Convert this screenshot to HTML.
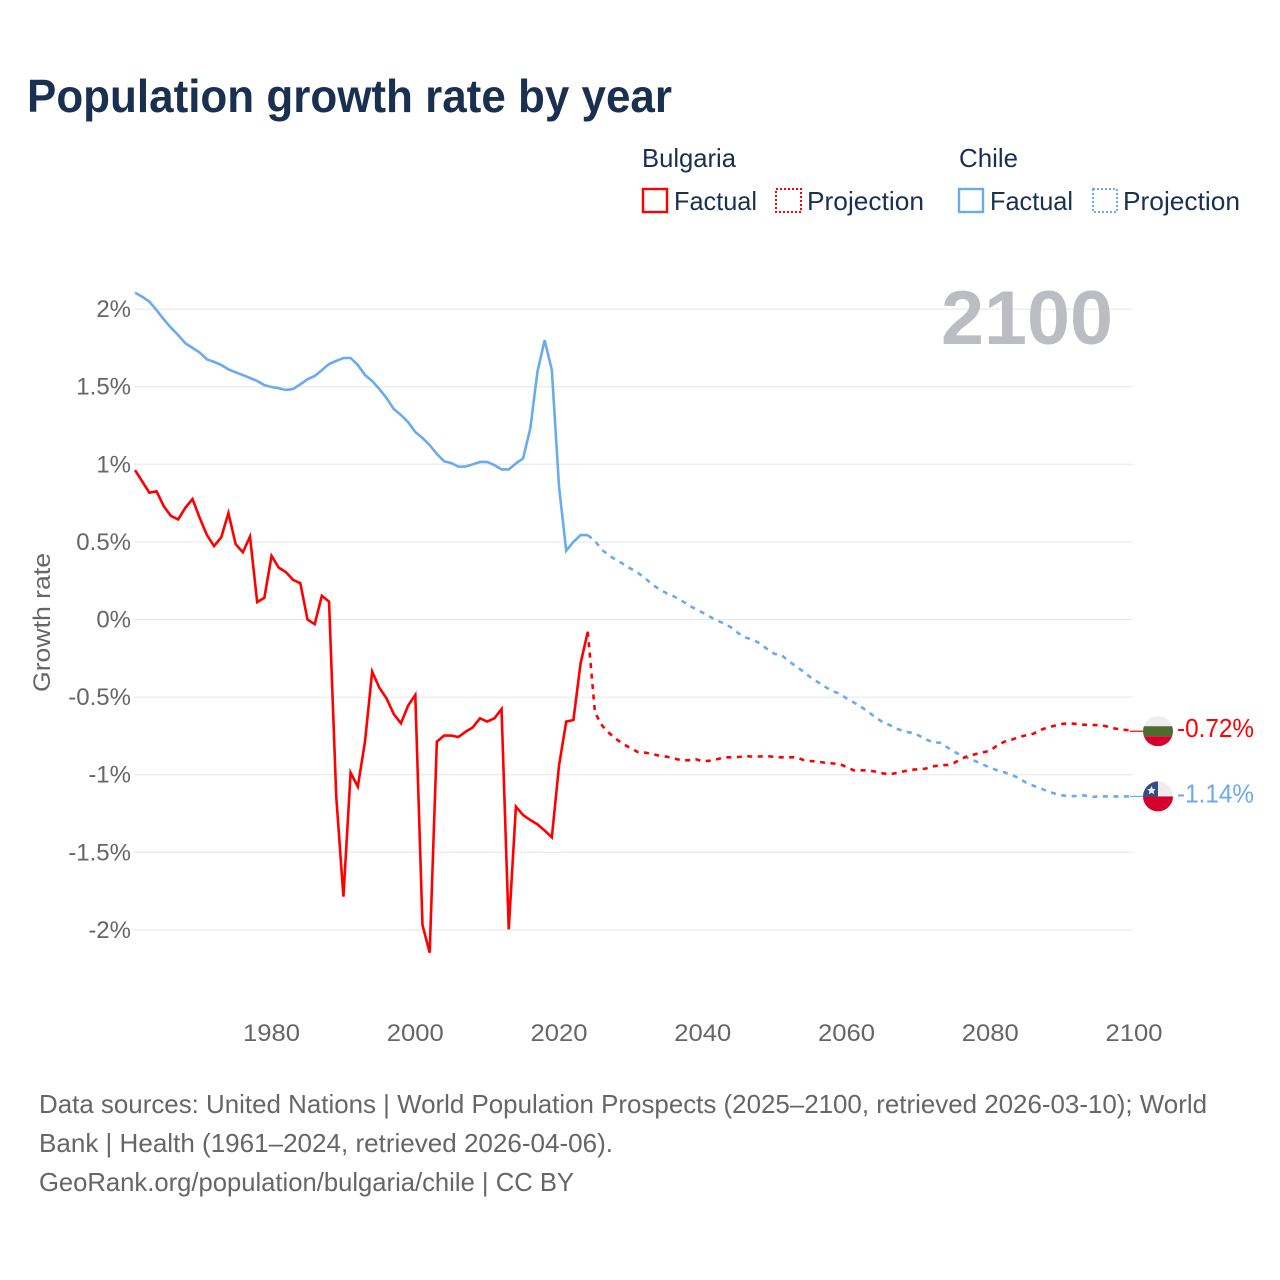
<!DOCTYPE html>
<html lang="en">
<head>
<meta charset="utf-8">
<title>Population growth rate by year</title>
<style>
html,body{margin:0;padding:0;background:#fff;}
svg{display:block;font-family:"Liberation Sans",sans-serif;}
</style>
</head>
<body>
<svg id="chart" width="1280" height="1280" viewBox="0 0 1280 1280" xmlns="http://www.w3.org/2000/svg">
<rect width="1280" height="1280" fill="#fff"/>
<text x="27" y="112" font-size="46" font-weight="700" fill="#1a3050" textLength="645" lengthAdjust="spacingAndGlyphs">Population growth rate by year</text>
<g font-size="26" fill="#1a3050">
<text x="642" y="167" textLength="94" lengthAdjust="spacingAndGlyphs">Bulgaria</text>
<text x="959" y="167" textLength="59" lengthAdjust="spacingAndGlyphs">Chile</text>
<rect x="643" y="189" width="24" height="23" fill="none" stroke="#ff0000" stroke-width="2.4"/>
<text x="674" y="210" textLength="83" lengthAdjust="spacingAndGlyphs">Factual</text>
<rect x="776" y="189" width="25" height="23" fill="none" stroke="#ff0000" stroke-width="2" stroke-dasharray="2,2"/>
<text x="807" y="210" textLength="117" lengthAdjust="spacingAndGlyphs">Projection</text>
<rect x="959" y="189" width="24" height="23" fill="none" stroke="#6aaaee" stroke-width="2.4"/>
<text x="990" y="210" textLength="83" lengthAdjust="spacingAndGlyphs">Factual</text>
<rect x="1093" y="189" width="24" height="23" fill="none" stroke="#6aaaee" stroke-width="2" stroke-dasharray="2,2"/>
<text x="1123" y="210" textLength="117" lengthAdjust="spacingAndGlyphs">Projection</text>
</g>
<g id="grid"></g>
<g id="yticks"></g>
<g id="xticks"></g>
<text transform="translate(50,692) rotate(-90)" font-size="24" fill="#666" textLength="139" lengthAdjust="spacingAndGlyphs">Growth rate</text>
<text x="941" y="344" font-size="76" font-weight="700" fill="#bcbdc3" textLength="172" lengthAdjust="spacingAndGlyphs">2100</text>
<g id="series"></g>
<g id="endpoints"></g>
<g font-size="26" fill="#666">
<text x="39" y="1113" textLength="1168" lengthAdjust="spacingAndGlyphs">Data sources: United Nations | World Population Prospects (2025–2100, retrieved 2026-03-10); World</text>
<text x="39" y="1152" textLength="574" lengthAdjust="spacingAndGlyphs">Bank | Health (1961–2024, retrieved 2026-04-06).</text>
<text x="39" y="1191" textLength="535" lengthAdjust="spacingAndGlyphs">GeoRank.org/population/bulgaria/chile | CC BY</text>
</g>
</svg>
<script>
const factualStartYear = 1961;
const projectionStartYear = 2024;
const domainEndYear = 2100;
const yTickValues = [2, 1.5, 1, 0.5, 0, -0.5, -1, -1.5, -2];
const yTickLabels = ["2%", "1.5%", "1%", "0.5%", "0%", "-0.5%", "-1%", "-1.5%", "-2%"];
const xTickValues = [1980, 2000, 2020, 2040, 2060, 2080, 2100];
const xTickLabels = ["1980", "2000", "2020", "2040", "2060", "2080", "2100"];

const bulgariaFactual = [0.963,0.89,0.817,0.826,0.73,0.667,0.645,0.72,0.776,0.655,0.545,0.473,0.53,0.686,0.486,0.433,0.534,0.112,0.14,0.41,0.334,0.305,0.255,0.234,0.0,-0.03,0.153,0.115,-1.14,-1.786,-0.987,-1.077,-0.787,-0.336,-0.44,-0.508,-0.609,-0.669,-0.555,-0.486,-1.968,-2.147,-0.787,-0.748,-0.748,-0.757,-0.723,-0.695,-0.637,-0.658,-0.637,-0.577,-1.996,-1.206,-1.26,-1.292,-1.32,-1.36,-1.403,-0.94,-0.658,-0.648,-0.282,-0.079];
const bulgariaProjection = [-0.079,-0.6,-0.684,-0.733,-0.772,-0.804,-0.83,-0.855,-0.858,-0.867,-0.878,-0.884,-0.895,-0.907,-0.907,-0.9,-0.914,-0.91,-0.9,-0.888,-0.888,-0.886,-0.88,-0.884,-0.882,-0.88,-0.886,-0.888,-0.888,-0.888,-0.905,-0.912,-0.916,-0.923,-0.927,-0.931,-0.95,-0.972,-0.972,-0.972,-0.98,-0.991,-0.997,-0.989,-0.978,-0.968,-0.965,-0.961,-0.946,-0.94,-0.937,-0.923,-0.897,-0.878,-0.867,-0.856,-0.845,-0.81,-0.787,-0.774,-0.757,-0.746,-0.736,-0.712,-0.695,-0.684,-0.673,-0.669,-0.673,-0.678,-0.68,-0.68,-0.686,-0.7,-0.707,-0.712,-0.72];
const chileFactual = [2.106,2.08,2.048,1.994,1.934,1.88,1.833,1.78,1.75,1.72,1.676,1.66,1.64,1.612,1.593,1.575,1.556,1.537,1.51,1.498,1.49,1.479,1.485,1.515,1.548,1.569,1.607,1.646,1.666,1.685,1.685,1.64,1.575,1.537,1.485,1.427,1.356,1.318,1.272,1.208,1.17,1.124,1.066,1.02,1.008,0.985,0.985,1.0,1.015,1.015,0.995,0.967,0.967,1.006,1.038,1.231,1.597,1.8,1.607,0.856,0.443,0.5,0.544,0.544];
const chileProjection = [0.544,0.505,0.448,0.411,0.383,0.355,0.327,0.3,0.265,0.224,0.194,0.168,0.149,0.123,0.093,0.067,0.044,0.018,-0.008,-0.025,-0.053,-0.09,-0.117,-0.13,-0.156,-0.192,-0.222,-0.231,-0.27,-0.302,-0.336,-0.373,-0.403,-0.433,-0.461,-0.476,-0.508,-0.534,-0.562,-0.594,-0.63,-0.66,-0.68,-0.704,-0.72,-0.73,-0.746,-0.772,-0.79,-0.794,-0.823,-0.852,-0.878,-0.895,-0.914,-0.935,-0.955,-0.972,-0.985,-1.002,-1.023,-1.052,-1.071,-1.088,-1.107,-1.122,-1.133,-1.139,-1.137,-1.133,-1.144,-1.14,-1.14,-1.14,-1.14,-1.14,-1.14];
const endValueLabels = ["-0.72%", "-1.14%"];

const NS = "http://www.w3.org/2000/svg";
const BULGARIA_RED = "#ff0000";
const CHILE_BLUE = "#6aaaee";

function xScale(year) { return 135 + (year - factualStartYear) * (1134 - 135) / (domainEndYear - factualStartYear); }
function yScale(value) { return 619.5 - value * 155.2; }

function make(tag, attrs, parent) {
  const el = document.createElementNS(NS, tag);
  Object.keys(attrs).forEach(function (k) { el.setAttribute(k, attrs[k]); });
  parent.appendChild(el);
  return el;
}

const gridGroup = document.getElementById("grid");
const yTickGroup = document.getElementById("yticks");
const xTickGroup = document.getElementById("xticks");
const seriesGroup = document.getElementById("series");
const endGroup = document.getElementById("endpoints");

yTickValues.forEach(function (v, i) {
  const line = make("line", { x1: 134, x2: 1133, y1: yScale(v), y2: yScale(v), stroke: "#e6e6e6", "stroke-width": 1 }, gridGroup);
  
  
  const label = make("text", { x: 131, y: yScale(v) + 8, "text-anchor": "end", "font-size": 24, fill: "#666" }, yTickGroup);
  
  
  label.textContent = yTickLabels[i];
});

xTickValues.forEach(function (v, i) {
  const label = make("text", { x: xScale(v), y: 1041, "text-anchor": "middle", "font-size": 24, fill: "#666", textLength: 57, lengthAdjust: "spacingAndGlyphs" }, xTickGroup);
  
  
  label.textContent = xTickLabels[i];
});

function linePath(values, startYear) {
  return values.map(function (v, i) {
    return (i ? "L" : "M") + xScale(startYear + i).toFixed(2) + " " + yScale(v).toFixed(2);
  }).join(" ");
}

function drawLine(values, startYear, colour, dashed) {
  const attrs = { d: linePath(values, startYear), fill: "none", stroke: colour, "stroke-width": 2.6, "stroke-linejoin": "miter" };
  if (dashed) { attrs["stroke-dasharray"] = "5,5.5"; }
  return make("path", attrs, seriesGroup);
}

const chileFactualLine = drawLine(chileFactual, factualStartYear, CHILE_BLUE, false);


const chileProjectionLine = drawLine(chileProjection, projectionStartYear, CHILE_BLUE, true);


const bulgariaFactualLine = drawLine(bulgariaFactual, factualStartYear, BULGARIA_RED, false);


const bulgariaProjectionLine = drawLine(bulgariaProjection, projectionStartYear, BULGARIA_RED, true);



function drawEnd(values, colour, labelText) {
  const last = values[values.length - 1];
  const group = make("g", { transform: "translate(1158," + yScale(last).toFixed(2) + ")" }, endGroup);
  make("line", { x1: -28, x2: -13, y1: 0, y2: 0, stroke: colour, "stroke-width": 1.2 }, group);
  const text = make("text", { x: 19, y: 6, "font-size": 26, fill: colour, textLength: 77, lengthAdjust: "spacingAndGlyphs" }, group);
  text.textContent = labelText;
  return { group: group, text: text };
}

const bulgariaEnd = drawEnd(bulgariaProjection, BULGARIA_RED, endValueLabels[0]);




const bulgariaFlag = make("g", { transform: "translate(0,0)" }, bulgariaEnd.group);


make("clipPath", { id: "clip-bg" }, bulgariaFlag).appendChild(document.createElementNS(NS, "circle")).setAttribute("r", 15);
make("rect", { x: -15, y: -15, width: 30, height: 10, fill: "#eeeeee", "clip-path": "url(#clip-bg)" }, bulgariaFlag);
make("rect", { x: -15, y: -5, width: 30, height: 10, fill: "#4f6b30", "clip-path": "url(#clip-bg)" }, bulgariaFlag);
make("rect", { x: -15, y: 5, width: 30, height: 10, fill: "#d6002f", "clip-path": "url(#clip-bg)" }, bulgariaFlag);

const chileEnd = drawEnd(chileProjection, CHILE_BLUE, endValueLabels[1]);




const chileFlag = make("g", { transform: "translate(0,0)" }, chileEnd.group);


make("clipPath", { id: "clip-cl" }, chileFlag).appendChild(document.createElementNS(NS, "circle")).setAttribute("r", 15);
make("rect", { x: -15, y: -15, width: 30, height: 15, fill: "#eeeeee", "clip-path": "url(#clip-cl)" }, chileFlag);
make("rect", { x: -15, y: 0, width: 30, height: 15, fill: "#d6002f", "clip-path": "url(#clip-cl)" }, chileFlag);
make("rect", { x: -15, y: -15, width: 15, height: 15, fill: "#2f4f86", "clip-path": "url(#clip-cl)" }, chileFlag);
make("polygon", { points: "-6.5,-10.5 -5.2,-7.6 -2.2,-7.3 -4.4,-5.3 -3.8,-2.2 -6.5,-3.8 -9.2,-2.2 -8.6,-5.3 -10.8,-7.3 -7.8,-7.6", fill: "#eeeeee" }, chileFlag);
</script>
</body>
</html>
